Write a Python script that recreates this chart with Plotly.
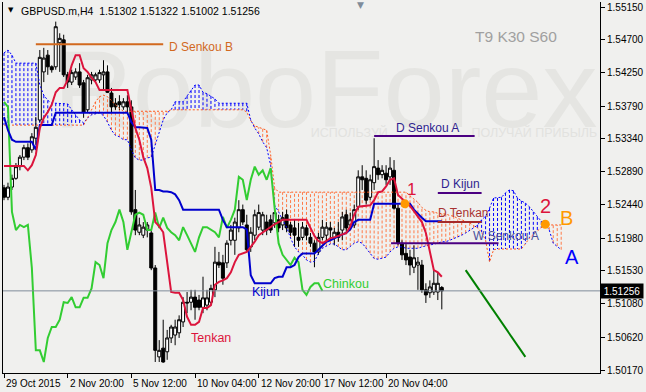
import plotly.graph_objects as go

# ---------------- data ----------------
symbol = "GBPUSD.m,H4"

open_ = [1.5267, 1.5254, 1.5268, 1.5280, 1.5296, 1.5309, 1.5322, 1.5319, 1.5335, 1.5360,
         1.5426, 1.5449, 1.5433, 1.5433, 1.5466, 1.5470, 1.5422, 1.5412, 1.5419, 1.5426,
         1.5411, 1.5374, 1.5415, 1.5415, 1.5415, 1.5422, 1.5426, 1.5397, 1.5383, 1.5385,
         1.5378, 1.5385, 1.5378, 1.5237, 1.5206, 1.5202, 1.5209, 1.5205, 1.5157, 1.5035,
         1.5047, 1.5042, 1.5061, 1.5065, 1.5068, 1.5083, 1.5110, 1.5110, 1.5117, 1.5113,
         1.5103, 1.5106, 1.5110, 1.5127, 1.5165, 1.5164, 1.5164, 1.5195, 1.5195, 1.5212,
         1.5237, 1.5216, 1.5186, 1.5202, 1.5213, 1.5209, 1.5220, 1.5223, 1.5219, 1.5223,
         1.5216, 1.5230, 1.5216, 1.5212, 1.5199, 1.5199, 1.5212, 1.5199, 1.5191, 1.5179,
         1.5199, 1.5202, 1.5212, 1.5199, 1.5206, 1.5209, 1.5230, 1.5216, 1.5216, 1.5241,
         1.5282, 1.5280, 1.5254, 1.5274, 1.5294, 1.5285, 1.5287, 1.5282, 1.5291, 1.5239,
         1.5191, 1.5177, 1.5172, 1.5158, 1.5161, 1.5161, 1.5127, 1.5123, 1.5124, 1.5124,
         1.51302]
high = [1.5271, 1.5274, 1.5285, 1.5301, 1.5312, 1.5326, 1.5328, 1.5342, 1.5364, 1.5456,
        1.5459, 1.5456, 1.5435, 1.5495, 1.5479, 1.5477, 1.5426, 1.5429, 1.5431, 1.5438,
        1.5415, 1.5422, 1.5426, 1.5425, 1.5429, 1.5442, 1.5435, 1.5404, 1.5390, 1.5394,
        1.5390, 1.5394, 1.5387, 1.5264, 1.5226, 1.5220, 1.5220, 1.5209, 1.5161, 1.5058,
        1.5086, 1.5072, 1.5079, 1.5086, 1.5092, 1.5117, 1.5124, 1.5127, 1.5127, 1.5120,
        1.5145, 1.5127, 1.5134, 1.5186, 1.5179, 1.5175, 1.5195, 1.5216, 1.5226, 1.5250,
        1.5244, 1.5230, 1.5213, 1.5237, 1.5244, 1.5234, 1.5230, 1.5230, 1.5237, 1.5230,
        1.5234, 1.5237, 1.5220, 1.5223, 1.5219, 1.5220, 1.5216, 1.5205, 1.5195, 1.5205,
        1.5223, 1.5220, 1.5220, 1.5212, 1.5220, 1.5234, 1.5237, 1.5233, 1.5244, 1.5291,
        1.5298, 1.5291, 1.5285, 1.5335, 1.5305, 1.5298, 1.5298, 1.5309, 1.5305, 1.5244,
        1.5195, 1.5191, 1.5182, 1.5188, 1.5172, 1.5168, 1.5136, 1.5140, 1.5154, 1.5150,
        1.51322]
low = [1.5250, 1.5250, 1.5264, 1.5278, 1.5291, 1.5305, 1.5305, 1.5315, 1.5326, 1.5357,
       1.5412, 1.5422, 1.5425, 1.5429, 1.5426, 1.5419, 1.5404, 1.5408, 1.5415, 1.5404,
       1.5363, 1.5371, 1.5409, 1.5412, 1.5411, 1.5401, 1.5397, 1.5370, 1.5374, 1.5374,
       1.5374, 1.5371, 1.5230, 1.5202, 1.5202, 1.5198, 1.5199, 1.5154, 1.5028, 1.5028,
       1.5027, 1.5031, 1.5054, 1.5051, 1.5061, 1.5076, 1.5095, 1.5099, 1.5086, 1.5099,
       1.5095, 1.5099, 1.5106, 1.5117, 1.5157, 1.5134, 1.5157, 1.5188, 1.5175, 1.5206,
       1.5216, 1.5179, 1.5179, 1.5195, 1.5209, 1.5202, 1.5202, 1.5205, 1.5212, 1.5206,
       1.5209, 1.5206, 1.5201, 1.5186, 1.5186, 1.5195, 1.5195, 1.5186, 1.5158, 1.5175,
       1.5195, 1.5195, 1.5195, 1.5188, 1.5193, 1.5195, 1.5206, 1.5212, 1.5212, 1.5237,
       1.5264, 1.5244, 1.5250, 1.5264, 1.5278, 1.5280, 1.5271, 1.5271, 1.5237, 1.5188,
       1.5168, 1.5161, 1.5147, 1.5150, 1.5127, 1.5123, 1.5109, 1.5116, 1.5120, 1.5113,
       1.51002]
close = [1.5254, 1.5268, 1.5280, 1.5296, 1.5309, 1.5322, 1.5309, 1.5337, 1.5350, 1.5446,
         1.5445, 1.5433, 1.5429, 1.5488, 1.5472, 1.5422, 1.5412, 1.5425, 1.5426, 1.5408,
         1.5371, 1.5418, 1.5422, 1.5422, 1.5425, 1.5426, 1.5398, 1.5378, 1.5378, 1.5381,
         1.5385, 1.5378, 1.5234, 1.5209, 1.5216, 1.5213, 1.5216, 1.5157, 1.5044, 1.5044,
         1.5028, 1.5061, 1.5076, 1.5076, 1.5086, 1.5110, 1.5109, 1.5117, 1.5103, 1.5103,
         1.5116, 1.5116, 1.5129, 1.5165, 1.5161, 1.5143, 1.5191, 1.5209, 1.5220, 1.5237,
         1.5220, 1.5182, 1.5206, 1.5230, 1.5233, 1.5230, 1.5209, 1.5209, 1.5233, 1.5212,
         1.5226, 1.5212, 1.5206, 1.5202, 1.5195, 1.5213, 1.5202, 1.5191, 1.5179, 1.5199,
         1.5213, 1.5213, 1.5209, 1.5206, 1.5199, 1.5227, 1.5212, 1.5223, 1.5237, 1.5282,
         1.5278, 1.5250, 1.5278, 1.5296, 1.5285, 1.5291, 1.5278, 1.5294, 1.5239, 1.5191,
         1.5175, 1.5168, 1.5161, 1.5171, 1.5165, 1.5127, 1.5120, 1.5131, 1.5136, 1.5136,
         1.51256]

tenkan = [1.5297, 1.5297, 1.5297, 1.5297, 1.5297, 1.5297, 1.5291, 1.5298, 1.5312, 1.5349,
          1.5363, 1.5371, 1.5381, 1.5398, 1.5404, 1.5404, 1.5415, 1.5435, 1.5449, 1.5449,
          1.5431, 1.5426, 1.5418, 1.5412, 1.5401, 1.5401, 1.5401, 1.5401, 1.5401, 1.5401,
          1.5401, 1.5401, 1.5374, 1.5349, 1.5333, 1.5309, 1.5294, 1.5267, 1.5220, 1.5214,
          1.5206, 1.5161, 1.5124, 1.5123, 1.5123, 1.5113, 1.5090, 1.5079, 1.5079, 1.5083,
          1.5102, 1.5102, 1.5106, 1.5134, 1.5138, 1.5140, 1.5143, 1.5151, 1.5165, 1.5175,
          1.5177, 1.5179, 1.5186, 1.5193, 1.5202, 1.5206, 1.5210, 1.5213, 1.5217, 1.5220,
          1.5223, 1.5223, 1.5223, 1.5223, 1.5223, 1.5223, 1.5223, 1.5212, 1.5201, 1.5194,
          1.5191, 1.5194, 1.5198, 1.5199, 1.5201, 1.5202, 1.5205, 1.5214, 1.5230, 1.5241,
          1.5242, 1.5242, 1.5243, 1.5250, 1.5261, 1.5262, 1.5269, 1.5278, 1.5280, 1.5257,
          1.5252, 1.5247, 1.5242, 1.5235, 1.5227, 1.5220, 1.5205, 1.5177, 1.5154, 1.5151,
          1.5145]
kijun = [1.5364, 1.5346, 1.5333, 1.5330, 1.5330, 1.5330, 1.5330, 1.5330, 1.5319, 1.5353,
         1.5353, 1.5353, 1.5353, 1.5370, 1.5370, 1.5370, 1.5370, 1.5370, 1.5370, 1.5370,
         1.5370, 1.5370, 1.5370, 1.5370, 1.5370, 1.5370, 1.5370, 1.5370, 1.5370, 1.5370,
         1.5370, 1.5370, 1.5357, 1.5350, 1.5350, 1.5349, 1.5349, 1.5333, 1.5264, 1.5264,
         1.5262, 1.5262, 1.5261, 1.5258, 1.5250, 1.5237, 1.5237, 1.5237, 1.5237, 1.5237,
         1.5237, 1.5237, 1.5237, 1.5237, 1.5237, 1.5223, 1.5213, 1.5213, 1.5213, 1.5213,
         1.5213, 1.5210, 1.5147, 1.5136, 1.5136, 1.5136, 1.5136, 1.5136, 1.5143, 1.5145,
         1.5145, 1.5158, 1.5158, 1.5161, 1.5172, 1.5177, 1.5177, 1.5177, 1.5177, 1.5182,
         1.5188, 1.5193, 1.5195, 1.5198, 1.5201, 1.5203, 1.5205, 1.5210, 1.5220, 1.5223,
         1.5223, 1.5223, 1.5223, 1.5245, 1.5245, 1.5245, 1.5245, 1.5245, 1.5245, 1.5245,
         1.5245, 1.5245, 1.5245, 1.5237, 1.5231, 1.5226, 1.5221, 1.5221, 1.5221, 1.5221,
         1.5221]
span_a = [1.5452, 1.5456, 1.5449, 1.5438, 1.5438, 1.5438, 1.5438, 1.5438, 1.5438, 1.5408,
          1.5394, 1.5387, 1.5383, 1.5383, 1.5383, 1.5383, 1.5382, 1.5374, 1.5367, 1.5360,
          1.5356, 1.5363, 1.5367, 1.5368, 1.5370, 1.5366, 1.5357, 1.5346, 1.5339, 1.5337,
          1.5333, 1.5333, 1.5319, 1.5308, 1.5305, 1.5305, 1.5308, 1.5309, 1.5326, 1.5346,
          1.5360, 1.5370, 1.5374, 1.5385, 1.5385, 1.5385, 1.5393, 1.5401, 1.5408, 1.5408,
          1.5398, 1.5396, 1.5393, 1.5389, 1.5383, 1.5383, 1.5383, 1.5383, 1.5383, 1.5383,
          1.5383, 1.5383, 1.5360, 1.5349, 1.5341, 1.5330, 1.5322, 1.5298, 1.5243, 1.5234,
          1.5223, 1.5213, 1.5198, 1.5186, 1.5179, 1.5175, 1.5168, 1.5165, 1.5166, 1.5177,
          1.5184, 1.5187, 1.5190, 1.5190, 1.5186, 1.5182, 1.5182, 1.5187, 1.5191, 1.5193,
          1.5191, 1.5184, 1.5177, 1.5170, 1.5169, 1.5170, 1.5172, 1.5179, 1.5184, 1.5186,
          1.5186, 1.5184, 1.5184, 1.5184, 1.5184, 1.5186, 1.5187, 1.5188, 1.5190, 1.5191,
          1.5193, 1.5193, 1.5195, 1.5197, 1.5199, 1.5202, 1.5205, 1.5208, 1.5212, 1.5216,
          1.5223, 1.5228, 1.5239, 1.5253, 1.5253, 1.5254, 1.5260, 1.5264, 1.5263, 1.5253,
          1.5249, 1.5246, 1.5241, 1.5234, 1.5227, 1.5221, 1.5217, 1.5209, 1.5191, 1.5187,
          1.5182]
span_b = [1.5353, 1.5353, 1.5353, 1.5353, 1.5353, 1.5353, 1.5353, 1.5353, 1.5353, 1.5353,
          1.5353, 1.5353, 1.5353, 1.5353, 1.5353, 1.5353, 1.5353, 1.5353, 1.5353, 1.5353,
          1.5353, 1.5363, 1.5374, 1.5385, 1.5392, 1.5394, 1.5392, 1.5386, 1.5381, 1.5376,
          1.5372, 1.5372, 1.5372, 1.5372, 1.5372, 1.5372, 1.5372, 1.5372, 1.5372, 1.5372,
          1.5372, 1.5372, 1.5374, 1.5374, 1.5374, 1.5374, 1.5374, 1.5374, 1.5374, 1.5374,
          1.5374, 1.5374, 1.5374, 1.5374, 1.5374, 1.5374, 1.5374, 1.5374, 1.5374, 1.5374,
          1.5374, 1.5371, 1.5359, 1.5352, 1.5350, 1.5349, 1.5346, 1.5312, 1.5267, 1.5261,
          1.5261, 1.5261, 1.5261, 1.5261, 1.5261, 1.5261, 1.5261, 1.5261, 1.5261, 1.5261,
          1.5261, 1.5261, 1.5261, 1.5261, 1.5261, 1.5261, 1.5261, 1.5261, 1.5261, 1.5261,
          1.5261, 1.5261, 1.5261, 1.5261, 1.5261, 1.5261, 1.5261, 1.5261, 1.5261, 1.5261,
          1.5261, 1.5261, 1.5256, 1.5251, 1.5247, 1.5240, 1.5236, 1.5234, 1.5234, 1.5232,
          1.5232, 1.5231, 1.5229, 1.5228, 1.5225, 1.5223, 1.5220, 1.5219, 1.5215, 1.5212,
          1.5206, 1.5195, 1.5165, 1.5182, 1.5183, 1.5183, 1.5183, 1.5183, 1.5183, 1.5183,
          1.5183, 1.5190, 1.5198, 1.5203, 1.5208, 1.5212, 1.5217, 1.5216, 1.5216, 1.5216,
          1.5216]
chinkou_shift = 30

price_ticks = [1.50170, 1.50620, 1.51080, 1.51530, 1.51980, 1.52440,
               1.52890, 1.53340, 1.53790, 1.54250, 1.54700, 1.55150]
time_tick_bars = [0, 16, 32, 48, 64, 80, 96]
time_tick_labels = ["29 Oct 2015", "2 Nov 20:00", "5 Nov 12:00", "10 Nov 04:00",
                    "12 Nov 20:00", "17 Nov 12:00", "20 Nov 04:00"]

level_names = ["D Senkou B", "D Senkou A", "D Kijun", "D Tenkan", "W Senkou A"]
level_prices = [1.5464, 1.5338, 1.5260, 1.5220, 1.5191]
level_from = [8, 93, 109, 109, 97.25]
level_to = [40, 118.25, 120, 120, 124.25]

signal_bars = [100.75, 136]
signal_prices = [1.5245, 1.5217]
forecast_bars = [116, 131]
forecast_prices = [1.5154, 1.5035]

# ---------------- styling ----------------
BG = "#f0f0ee"
FONT = "Liberation Sans, Arial, sans-serif"
C_TENKAN = "#dc143c"
C_KIJUN = "#0000cd"
C_CHINKOU = "#32cd32"
C_SPAN_A = "#0000ff"
C_SPAN_B = "#ff5a1e"
C_HATCH_B = "#ff7a48"
level_colors = ["#d2691e", "#4b0082", "#4b0082", "#a52a2a", "#4b0082"]
level_text_colors = ["#d2691e", "#2f1f8f", "#2f1f8f", "#a83232", "#4a4f9a"]

bars = list(range(len(close)))
cloud_bars = list(range(len(span_a)))

fig = go.Figure()

fig.add_trace(go.Candlestick(
    x=bars, open=open_, high=high, low=low, close=close,
    increasing=dict(line=dict(color="black", width=1), fillcolor="white"),
    decreasing=dict(line=dict(color="black", width=1), fillcolor="black"),
    whiskerwidth=0, hoverinfo="skip"))

fig.add_trace(go.Scatter(x=cloud_bars, y=span_a, mode="lines",
                         line=dict(color=C_SPAN_A, width=1, dash="2px,2px")))
fig.add_trace(go.Scatter(x=cloud_bars, y=span_b, mode="lines",
                         line=dict(color=C_SPAN_B, width=1, dash="2px,2px")))

fig.add_trace(go.Scatter(x=bars[:len(close) - chinkou_shift], y=close[chinkou_shift:],
                         mode="lines", line=dict(color=C_CHINKOU, width=2)))
fig.add_trace(go.Scatter(x=bars, y=kijun, mode="lines", line=dict(color=C_KIJUN, width=2)))
fig.add_trace(go.Scatter(x=bars, y=tenkan, mode="lines", line=dict(color=C_TENKAN, width=2)))

for name, p, a, b, col in zip(level_names, level_prices, level_from, level_to, level_colors):
    fig.add_trace(go.Scatter(x=[a, b], y=[p, p], mode="lines", line=dict(color=col, width=2)))

fig.add_trace(go.Scatter(x=forecast_bars, y=forecast_prices, mode="lines",
                         line=dict(color="#008000", width=2)))
fig.add_trace(go.Scatter(x=signal_bars, y=signal_prices, mode="markers",
                         marker=dict(color="#ff9900", size=9, line=dict(width=0))))

shapes = []
# watermark (below everything)
shapes.append(dict(type="rect", xref="paper", yref="paper", x0=0.09, x1=0.99, y0=0.70, y1=0.89,
                   line=dict(width=0), fillcolor="rgba(0,0,0,0)", layer="below",
                   label=dict(text="RoboForex", font=dict(size=110, color="#e5e5e2", family=FONT))))
shapes.append(dict(type="rect", xref="paper", yref="paper", x0=0.50, x1=0.66, y0=0.63, y1=0.67,
                   line=dict(width=0), fillcolor="rgba(0,0,0,0)", layer="below",
                   label=dict(text="ИСПОЛЬЗУЙ", font=dict(size=12.5, color="#e2e2df", family=FONT))))
shapes.append(dict(type="rect", xref="paper", yref="paper", x0=0.80, x1=0.98, y0=0.63, y1=0.67,
                   line=dict(width=0), fillcolor="rgba(0,0,0,0)", layer="below",
                   label=dict(text="ПОЛУЧАЙ ПРИБЫЛЬ", font=dict(size=12.5, color="#e2e2df", family=FONT))))
# kumo hatching between the spans
for i, (a, b) in enumerate(zip(span_a, span_b)):
    col = C_SPAN_A if a >= b else C_HATCH_B
    shapes.append(dict(type="line", xref="x", yref="y", x0=i, x1=i, y0=a, y1=b,
                       line=dict(color=col, width=1, dash="3px,2px"), layer="below"))
# current price line
shapes.append(dict(type="line", xref="paper", yref="y", x0=0, x1=1, y0=close[-1], y1=close[-1],
                   line=dict(color="#7f8c9a", width=1), layer="above"))

ann = []
ann.append(dict(xref="paper", yref="paper", x=0.0267, y=0.9757, xanchor="left", yanchor="middle",
                text=f"{symbol}\u00a0\u00a0{open_[-1]:.5f} {high[-1]:.5f} {low[-1]:.5f} {close[-1]:.5f}",
                showarrow=False, font=dict(size=10.5, color="black", family=FONT)))
ann.append(dict(xref="paper", yref="paper", x=0.0135, y=0.978, xanchor="center", yanchor="middle",
                text="▼", showarrow=False, font=dict(size=7, color="black", family="DejaVu Sans")))
ann.append(dict(xref="paper", yref="paper", x=0.598, y=0.993, xanchor="center", yanchor="middle",
                text="▼", showarrow=False, font=dict(size=9, color="#7f8c9a", family="DejaVu Sans")))
ann.append(dict(x=128.75, y=1.5474, text="T9 K30 S60", showarrow=False,
                font=dict(size=15.5, color="#a0a0a0", family=FONT)))
# level labels
label_pos = [(41, 1.5460), (98, 1.5349), (109.25, 1.5272), (108.5, 1.5232), (117.25, 1.5201)]
for name, (lx, ly), col in zip(level_names, label_pos, level_text_colors):
    ann.append(dict(x=lx, y=ly, text=name, showarrow=False, xanchor="left", yanchor="middle",
                    font=dict(size=12, color=col, family=FONT)))
ann.append(dict(x=52, y=1.5061, text="Tenkan", showarrow=False,
                font=dict(size=12.5, color=C_TENKAN, family=FONT)))
ann.append(dict(x=65.75, y=1.5124, text="Kijun", showarrow=False,
                font=dict(size=12.5, color=C_KIJUN, family=FONT)))
ann.append(dict(x=86, y=1.5135, text="Chinkou", showarrow=False,
                font=dict(size=12.5, color=C_CHINKOU, family=FONT)))
ann.append(dict(x=102.5, y=1.5264, text="1", showarrow=False,
                font=dict(size=17, color=C_TENKAN, family=FONT)))
ann.append(dict(x=136, y=1.5242, text="2", showarrow=False,
                font=dict(size=20, color=C_TENKAN, family=FONT)))
ann.append(dict(x=141.25, y=1.5225, text="B", showarrow=False,
                font=dict(size=20, color="#ff9900", family=FONT)))
ann.append(dict(x=142.75, y=1.5172, text="A", showarrow=False,
                font=dict(size=20, color="#0000ff", family=FONT)))
# time axis labels (left aligned at the tick like the terminal)
for b, t in zip(time_tick_bars, time_tick_labels):
    ann.append(dict(x=b, xref="x", yref="paper", y=-0.027, xanchor="left", yanchor="middle",
                    text=t, showarrow=False, font=dict(size=10, color="black", family=FONT)))
# current price tag
ann.append(dict(xref="paper", x=1.0, y=close[-1], xanchor="left", yanchor="middle",
                text=f"{close[-1]:.5f}", showarrow=False, bgcolor="black", borderpad=1,
                width=40, height=12, font=dict(size=10, color="white", family=FONT)))

fig.update_layout(
    width=646, height=392, autosize=False,
    margin=dict(l=2, r=44, t=2, b=19),
    paper_bgcolor=BG, plot_bgcolor=BG,
    showlegend=False, hovermode=False,
    boxgap=0.25, boxgroupgap=0,
    shapes=shapes, annotations=ann,
    font=dict(family=FONT, size=10, color="black"),
    xaxis=dict(range=[-0.25, 149.75], showgrid=False, zeroline=False, showline=True,
               linecolor="black", linewidth=1, ticks="outside", ticklen=4, tickcolor="black",
               tickvals=time_tick_bars, showticklabels=False,
               rangeslider=dict(visible=False), fixedrange=True),
    yaxis=dict(side="right", range=[1.50129, 1.55219], showgrid=False, zeroline=False,
               showline=True, mirror=True, linecolor="black", linewidth=1,
               ticks="outside", ticklen=4, tickcolor="black",
               tickvals=price_ticks, ticktext=[f"{v:.5f}" for v in price_ticks],
               tickfont=dict(size=10, color="black", family=FONT), fixedrange=True),
)

fig.write_html("out.html")
